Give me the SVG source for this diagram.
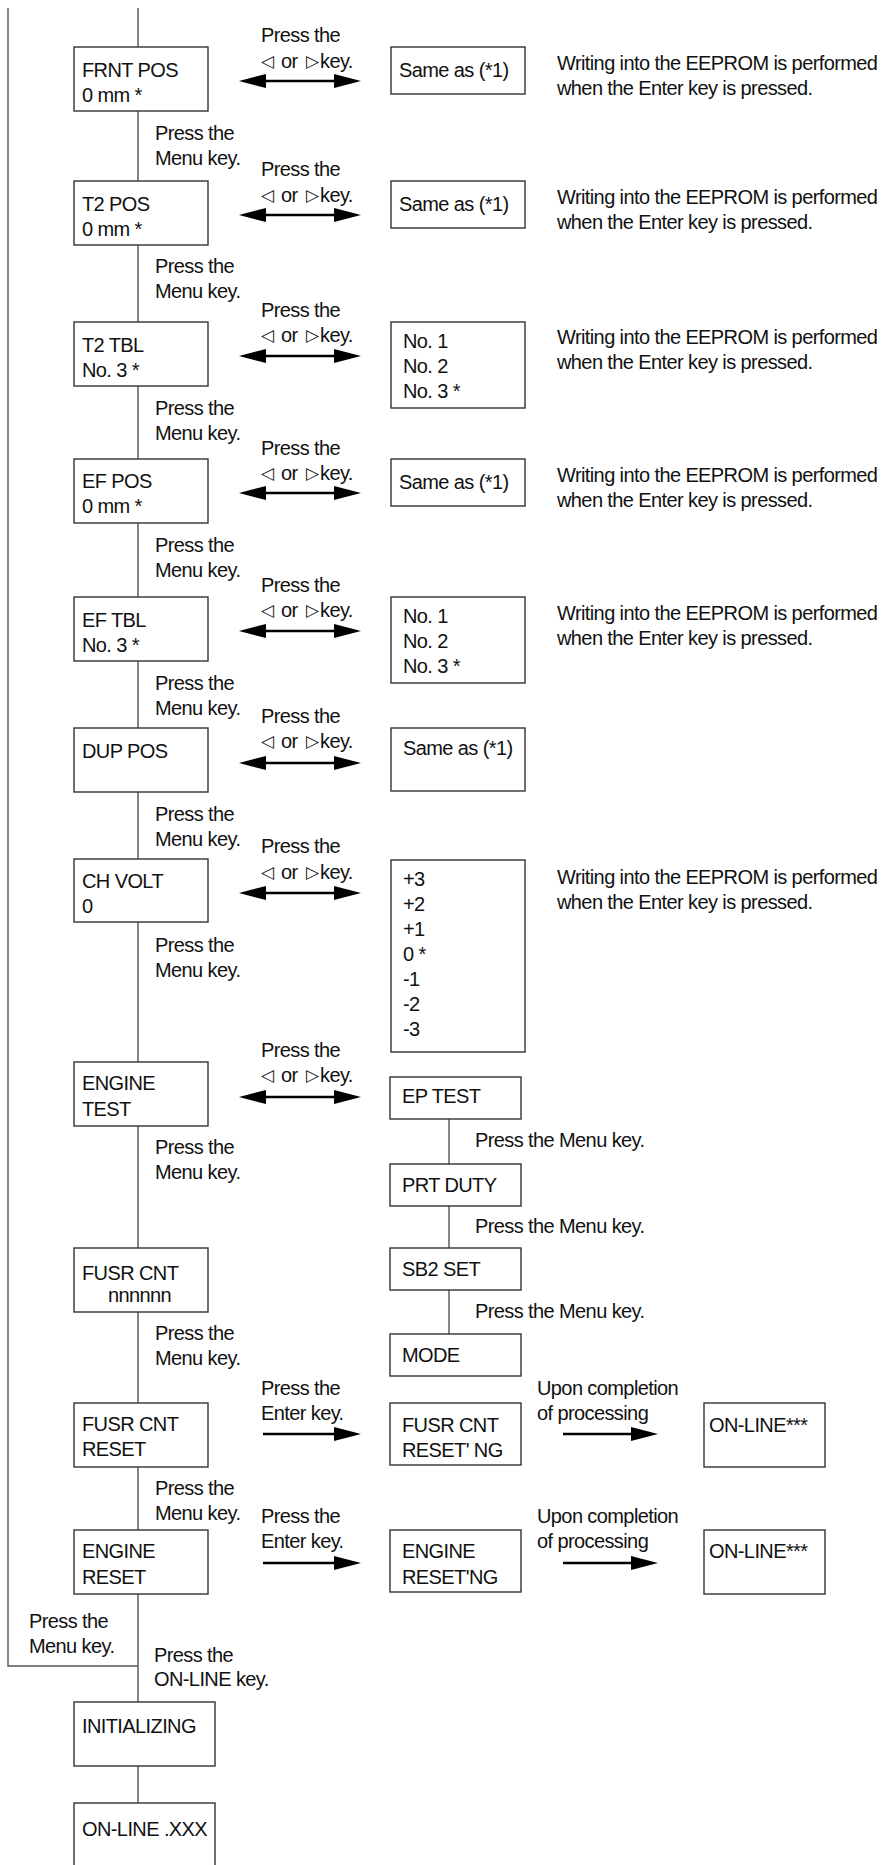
<svg xmlns="http://www.w3.org/2000/svg" width="885" height="1865" viewBox="0 0 885 1865">
<style>
text{font-family:"Liberation Sans",Arial,sans-serif;font-size:20px;letter-spacing:-0.6px;fill:#111}
.tri{font-family:"DejaVu Sans",sans-serif;font-size:17px;letter-spacing:0}
.box{fill:#fff;stroke:#333;stroke-width:1.4}
.conn{stroke:#555;stroke-width:1.4;fill:none}
.arr{stroke:#000;stroke-width:2.6;fill:none}
</style>
<defs>
<marker id="ah" viewBox="0 0 27 14" refX="2" refY="7" markerWidth="27" markerHeight="14" markerUnits="userSpaceOnUse" orient="auto-start-reverse">
<path d="M0,0 L27,7 L0,14 z" fill="#000"/>
</marker>
</defs>
<rect width="885" height="1865" fill="#fff"/>
<g id="connectors">
<path class="conn" d="M8,8 V1666 H138"/>
<path class="conn" d="M138,8 V47 M138,111 V181 M138,245 V322 M138,386 V459 M138,523 V597 M138,661 V728 M138,792 V859 M138,922 V1062 M138,1126 V1248 M138,1312 V1403 M138,1467 V1530 M138,1594 V1702 M138,1766 V1803"/>
<path class="conn" d="M449,1119 V1164 M449,1206 V1248 M449,1290 V1334"/>
<line class="arr" x1="264" y1="81" x2="336" y2="81" marker-start="url(#ah)" marker-end="url(#ah)"/>
<line class="arr" x1="264" y1="215" x2="336" y2="215" marker-start="url(#ah)" marker-end="url(#ah)"/>
<line class="arr" x1="264" y1="356" x2="336" y2="356" marker-start="url(#ah)" marker-end="url(#ah)"/>
<line class="arr" x1="264" y1="493" x2="336" y2="493" marker-start="url(#ah)" marker-end="url(#ah)"/>
<line class="arr" x1="264" y1="631" x2="336" y2="631" marker-start="url(#ah)" marker-end="url(#ah)"/>
<line class="arr" x1="264" y1="763" x2="336" y2="763" marker-start="url(#ah)" marker-end="url(#ah)"/>
<line class="arr" x1="264" y1="893" x2="336" y2="893" marker-start="url(#ah)" marker-end="url(#ah)"/>
<line class="arr" x1="264" y1="1097" x2="336" y2="1097" marker-start="url(#ah)" marker-end="url(#ah)"/>
<line class="arr" x1="263" y1="1434" x2="336" y2="1434" marker-end="url(#ah)"/>
<line class="arr" x1="263" y1="1563" x2="336" y2="1563" marker-end="url(#ah)"/>
<line class="arr" x1="563" y1="1434" x2="633" y2="1434" marker-end="url(#ah)"/>
<line class="arr" x1="563" y1="1563" x2="633" y2="1563" marker-end="url(#ah)"/>
</g>
<g id="labels">
<text x="261" y="42">Press the</text><text y="67"><tspan class="tri" x="261">◁</tspan><tspan x="281" y="68">or</tspan><tspan class="tri" x="306" y="67">▷</tspan><tspan x="320" y="68">key.</tspan></text>
<text x="261" y="176">Press the</text><text y="201"><tspan class="tri" x="261">◁</tspan><tspan x="281" y="202">or</tspan><tspan class="tri" x="306" y="201">▷</tspan><tspan x="320" y="202">key.</tspan></text>
<text x="261" y="317">Press the</text><text y="341"><tspan class="tri" x="261">◁</tspan><tspan x="281" y="342">or</tspan><tspan class="tri" x="306" y="341">▷</tspan><tspan x="320" y="342">key.</tspan></text>
<text x="261" y="455">Press the</text><text y="479"><tspan class="tri" x="261">◁</tspan><tspan x="281" y="480">or</tspan><tspan class="tri" x="306" y="479">▷</tspan><tspan x="320" y="480">key.</tspan></text>
<text x="261" y="592">Press the</text><text y="616"><tspan class="tri" x="261">◁</tspan><tspan x="281" y="617">or</tspan><tspan class="tri" x="306" y="616">▷</tspan><tspan x="320" y="617">key.</tspan></text>
<text x="261" y="723">Press the</text><text y="747"><tspan class="tri" x="261">◁</tspan><tspan x="281" y="748">or</tspan><tspan class="tri" x="306" y="747">▷</tspan><tspan x="320" y="748">key.</tspan></text>
<text x="261" y="853">Press the</text><text y="878"><tspan class="tri" x="261">◁</tspan><tspan x="281" y="879">or</tspan><tspan class="tri" x="306" y="878">▷</tspan><tspan x="320" y="879">key.</tspan></text>
<text x="261" y="1057">Press the</text><text y="1081"><tspan class="tri" x="261">◁</tspan><tspan x="281" y="1082">or</tspan><tspan class="tri" x="306" y="1081">▷</tspan><tspan x="320" y="1082">key.</tspan></text>
<text x="261" y="1395">Press the</text><text x="261" y="1420">Enter key.</text>
<text x="261" y="1523">Press the</text><text x="261" y="1548">Enter key.</text>
<text x="537" y="1395">Upon completion</text><text x="537" y="1420">of processing</text>
<text x="537" y="1523">Upon completion</text><text x="537" y="1548">of processing</text>
<text x="155" y="140">Press the</text><text x="155" y="165">Menu key.</text>
<text x="155" y="273">Press the</text><text x="155" y="298">Menu key.</text>
<text x="155" y="415">Press the</text><text x="155" y="440">Menu key.</text>
<text x="155" y="552">Press the</text><text x="155" y="577">Menu key.</text>
<text x="155" y="690">Press the</text><text x="155" y="715">Menu key.</text>
<text x="155" y="821">Press the</text><text x="155" y="846">Menu key.</text>
<text x="155" y="952">Press the</text><text x="155" y="977">Menu key.</text>
<text x="155" y="1154">Press the</text><text x="155" y="1179">Menu key.</text>
<text x="155" y="1340">Press the</text><text x="155" y="1365">Menu key.</text>
<text x="155" y="1495">Press the</text><text x="155" y="1520">Menu key.</text>
<text x="29" y="1628">Press the</text><text x="29" y="1653">Menu key.</text>
<text x="154" y="1662">Press the</text><text x="154" y="1686">ON-LINE key.</text>
<text x="475" y="1147">Press the Menu key.</text>
<text x="475" y="1233">Press the Menu key.</text>
<text x="475" y="1318">Press the Menu key.</text>
<text x="557" y="70">Writing into the EEPROM is performed</text><text x="557" y="95">when the Enter key is pressed.</text>
<text x="557" y="204">Writing into the EEPROM is performed</text><text x="557" y="229">when the Enter key is pressed.</text>
<text x="557" y="344">Writing into the EEPROM is performed</text><text x="557" y="369">when the Enter key is pressed.</text>
<text x="557" y="482">Writing into the EEPROM is performed</text><text x="557" y="507">when the Enter key is pressed.</text>
<text x="557" y="620">Writing into the EEPROM is performed</text><text x="557" y="645">when the Enter key is pressed.</text>
<text x="557" y="884">Writing into the EEPROM is performed</text><text x="557" y="909">when the Enter key is pressed.</text>
</g>
<g id="n-frnt-pos"><rect class="box" x="74" y="47" width="134" height="64"/><text x="82" y="77">FRNT POS</text><text x="82" y="102">0 mm *</text></g>
<g id="n-t2-pos"><rect class="box" x="74" y="181" width="134" height="64"/><text x="82" y="211">T2 POS</text><text x="82" y="236">0 mm *</text></g>
<g id="n-t2-tbl"><rect class="box" x="74" y="322" width="134" height="64"/><text x="82" y="352">T2 TBL</text><text x="82" y="377">No. 3 *</text></g>
<g id="n-ef-pos"><rect class="box" x="74" y="459" width="134" height="64"/><text x="82" y="488">EF POS</text><text x="82" y="513">0 mm *</text></g>
<g id="n-ef-tbl"><rect class="box" x="74" y="597" width="134" height="64"/><text x="82" y="627">EF TBL</text><text x="82" y="652">No. 3 *</text></g>
<g id="n-dup-pos"><rect class="box" x="74" y="728" width="134" height="64"/><text x="82" y="758">DUP POS</text></g>
<g id="n-ch-volt"><rect class="box" x="74" y="859" width="134" height="63"/><text x="82" y="888">CH VOLT</text><text x="82" y="913">0</text></g>
<g id="n-engine-test"><rect class="box" x="74" y="1062" width="134" height="64"/><text x="82" y="1090">ENGINE</text><text x="82" y="1116">TEST</text></g>
<g id="n-fusr-cnt"><rect class="box" x="74" y="1248" width="134" height="64"/><text x="82" y="1280">FUSR CNT</text><text x="108" y="1302">nnnnnn</text></g>
<g id="n-fusr-reset"><rect class="box" x="74" y="1403" width="134" height="64"/><text x="82" y="1431">FUSR CNT</text><text x="82" y="1456">RESET</text></g>
<g id="n-engine-reset"><rect class="box" x="74" y="1530" width="134" height="64"/><text x="82" y="1558">ENGINE</text><text x="82" y="1584">RESET</text></g>
<g id="n-initializing"><rect class="box" x="74" y="1702" width="141" height="64"/><text x="82" y="1733">INITIALIZING</text></g>
<g id="n-online-xxx"><rect class="box" x="74" y="1803" width="141" height="80"/><text x="82" y="1836">ON-LINE .XXX</text></g>
<g id="n-same1"><rect class="box" x="391" y="47" width="134" height="47"/><text x="399" y="77">Same as (*1)</text></g>
<g id="n-same2"><rect class="box" x="391" y="181" width="134" height="47"/><text x="399" y="211">Same as (*1)</text></g>
<g id="n-no-list1"><rect class="box" x="391" y="322" width="134" height="86"/><text x="403" y="348">No. 1</text><text x="403" y="373">No. 2</text><text x="403" y="398">No. 3 *</text></g>
<g id="n-same3"><rect class="box" x="391" y="459" width="134" height="47"/><text x="399" y="489">Same as (*1)</text></g>
<g id="n-no-list2"><rect class="box" x="391" y="597" width="134" height="86"/><text x="403" y="623">No. 1</text><text x="403" y="648">No. 2</text><text x="403" y="673">No. 3 *</text></g>
<g id="n-same4"><rect class="box" x="391" y="728" width="134" height="63"/><text x="403" y="755">Same as (*1)</text></g>
<g id="n-volt-list"><rect class="box" x="391" y="860" width="134" height="192"/><text x="403" y="886">+3</text><text x="403" y="911">+2</text><text x="403" y="936">+1</text><text x="403" y="961">0 *</text><text x="403" y="986">-1</text><text x="403" y="1011">-2</text><text x="403" y="1036">-3</text></g>
<g id="n-ep-test"><rect class="box" x="390" y="1077" width="131" height="42"/><text x="402" y="1103">EP TEST</text></g>
<g id="n-prt-duty"><rect class="box" x="390" y="1164" width="131" height="42"/><text x="402" y="1192">PRT DUTY</text></g>
<g id="n-sb2-set"><rect class="box" x="390" y="1248" width="131" height="42"/><text x="402" y="1276">SB2 SET</text></g>
<g id="n-mode"><rect class="box" x="390" y="1334" width="131" height="42"/><text x="402" y="1362">MODE</text></g>
<g id="n-fusr-resetng"><rect class="box" x="390" y="1403" width="131" height="62"/><text x="402" y="1432">FUSR CNT</text><text x="402" y="1457">RESET' NG</text></g>
<g id="n-engine-resetng"><rect class="box" x="390" y="1530" width="131" height="62"/><text x="402" y="1558">ENGINE</text><text x="402" y="1584">RESET'NG</text></g>
<g id="n-online1"><rect class="box" x="704" y="1403" width="121" height="64"/><text x="709" y="1432">ON-LINE***</text></g>
<g id="n-online2"><rect class="box" x="704" y="1530" width="121" height="64"/><text x="709" y="1558">ON-LINE***</text></g>
</svg>
